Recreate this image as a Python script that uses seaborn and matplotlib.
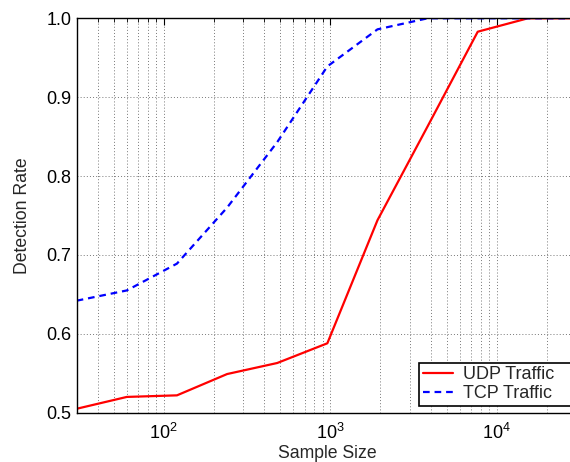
import matplotlib
matplotlib.use("Agg")
import matplotlib.pyplot as plt
import seaborn as sns
import pandas as pd
from matplotlib.ticker import LogLocator, NullFormatter

sample_size = [30, 60, 120, 240, 480, 960, 1920, 3840, 7680, 15360, 30720]
udp_rate = [0.505, 0.520, 0.522, 0.549, 0.563, 0.588, 0.744, 0.863, 0.983, 1.0, 1.0]
tcp_rate = [0.642, 0.655, 0.689, 0.760, 0.843, 0.939, 0.986, 1.0, 1.0, 1.0, 1.0]
series_names = ["UDP Traffic", "TCP Traffic"]

sns.set_style("white")
plt.rcParams['font.family'] = ['Liberation Sans', 'DejaVu Sans']
plt.rcParams['mathtext.fontset'] = 'custom'
plt.rcParams['mathtext.rm'] = 'Liberation Sans'

df = pd.DataFrame({
    "Sample Size": sample_size * 2,
    "Detection Rate": udp_rate + tcp_rate,
    "Series": [series_names[0]] * len(sample_size) + [series_names[1]] * len(sample_size),
})

fig = plt.figure(figsize=(5.7, 4.62), dpi=100)
ax = fig.add_axes([76.7 / 570, 1 - 412.7 / 462, (578 - 76.7) / 570, (412.7 - 18.3) / 462])

sns.lineplot(data=df, x="Sample Size", y="Detection Rate", hue="Series", style="Series",
             palette={series_names[0]: "#ff0000", series_names[1]: "#0000ff"},
             dashes={series_names[0]: "", series_names[1]: (3, 2.2)},
             linewidth=1.6, ax=ax, legend=True)

ax.set_xscale("log")
ax.set_xlim(30, 30720)
ax.set_ylim(0.5, 1.0)
ax.set_yticks([0.5, 0.6, 0.7, 0.8, 0.9, 1.0])
ax.set_yticklabels(["0.5", "0.6", "0.7", "0.8", "0.9", "1.0"])
ax.xaxis.set_major_locator(LogLocator(base=10, numticks=10))
ax.xaxis.set_minor_locator(LogLocator(base=10, subs=range(2, 10), numticks=20))
ax.xaxis.set_minor_formatter(NullFormatter())

grid_style = dict(linestyle=(0, (1, 2.2)), color="#777777", linewidth=0.7)
ax.grid(True, which="major", axis="both", **grid_style)
ax.grid(True, which="minor", axis="x", **grid_style)

ax.tick_params(axis="both", which="both", direction="in", top=True, right=True,
               labelsize=13, colors="black")
ax.tick_params(axis="both", which="major", length=5, width=0.8)
ax.tick_params(axis="y", which="major", pad=4)
ax.tick_params(axis="x", which="major", pad=7.5)
ax.tick_params(axis="both", which="minor", length=3, width=0.6)
for s in ax.spines.values():
    s.set_color("black")
    s.set_linewidth(1.0)

ax.set_xlabel("Sample Size", fontsize=12.7, labelpad=1)
ax.set_ylabel("Detection Rate", fontsize=12.7, labelpad=11)

leg_top = 1 - 362.7 / 462
leg_h = 44.6 / 462
leg = ax.legend(loc="upper left", bbox_to_anchor=(419 / 570, leg_top - leg_h, 165 / 570, leg_h),
                bbox_transform=fig.transFigure, mode="expand", borderaxespad=0, fontsize=13,
                frameon=True, fancybox=False, framealpha=1, edgecolor="black",
                handlelength=1.7, handletextpad=0.55, borderpad=0.2, labelspacing=0.12)
leg.get_frame().set_linewidth(1.2)

fig.savefig("out.png", dpi=100)
